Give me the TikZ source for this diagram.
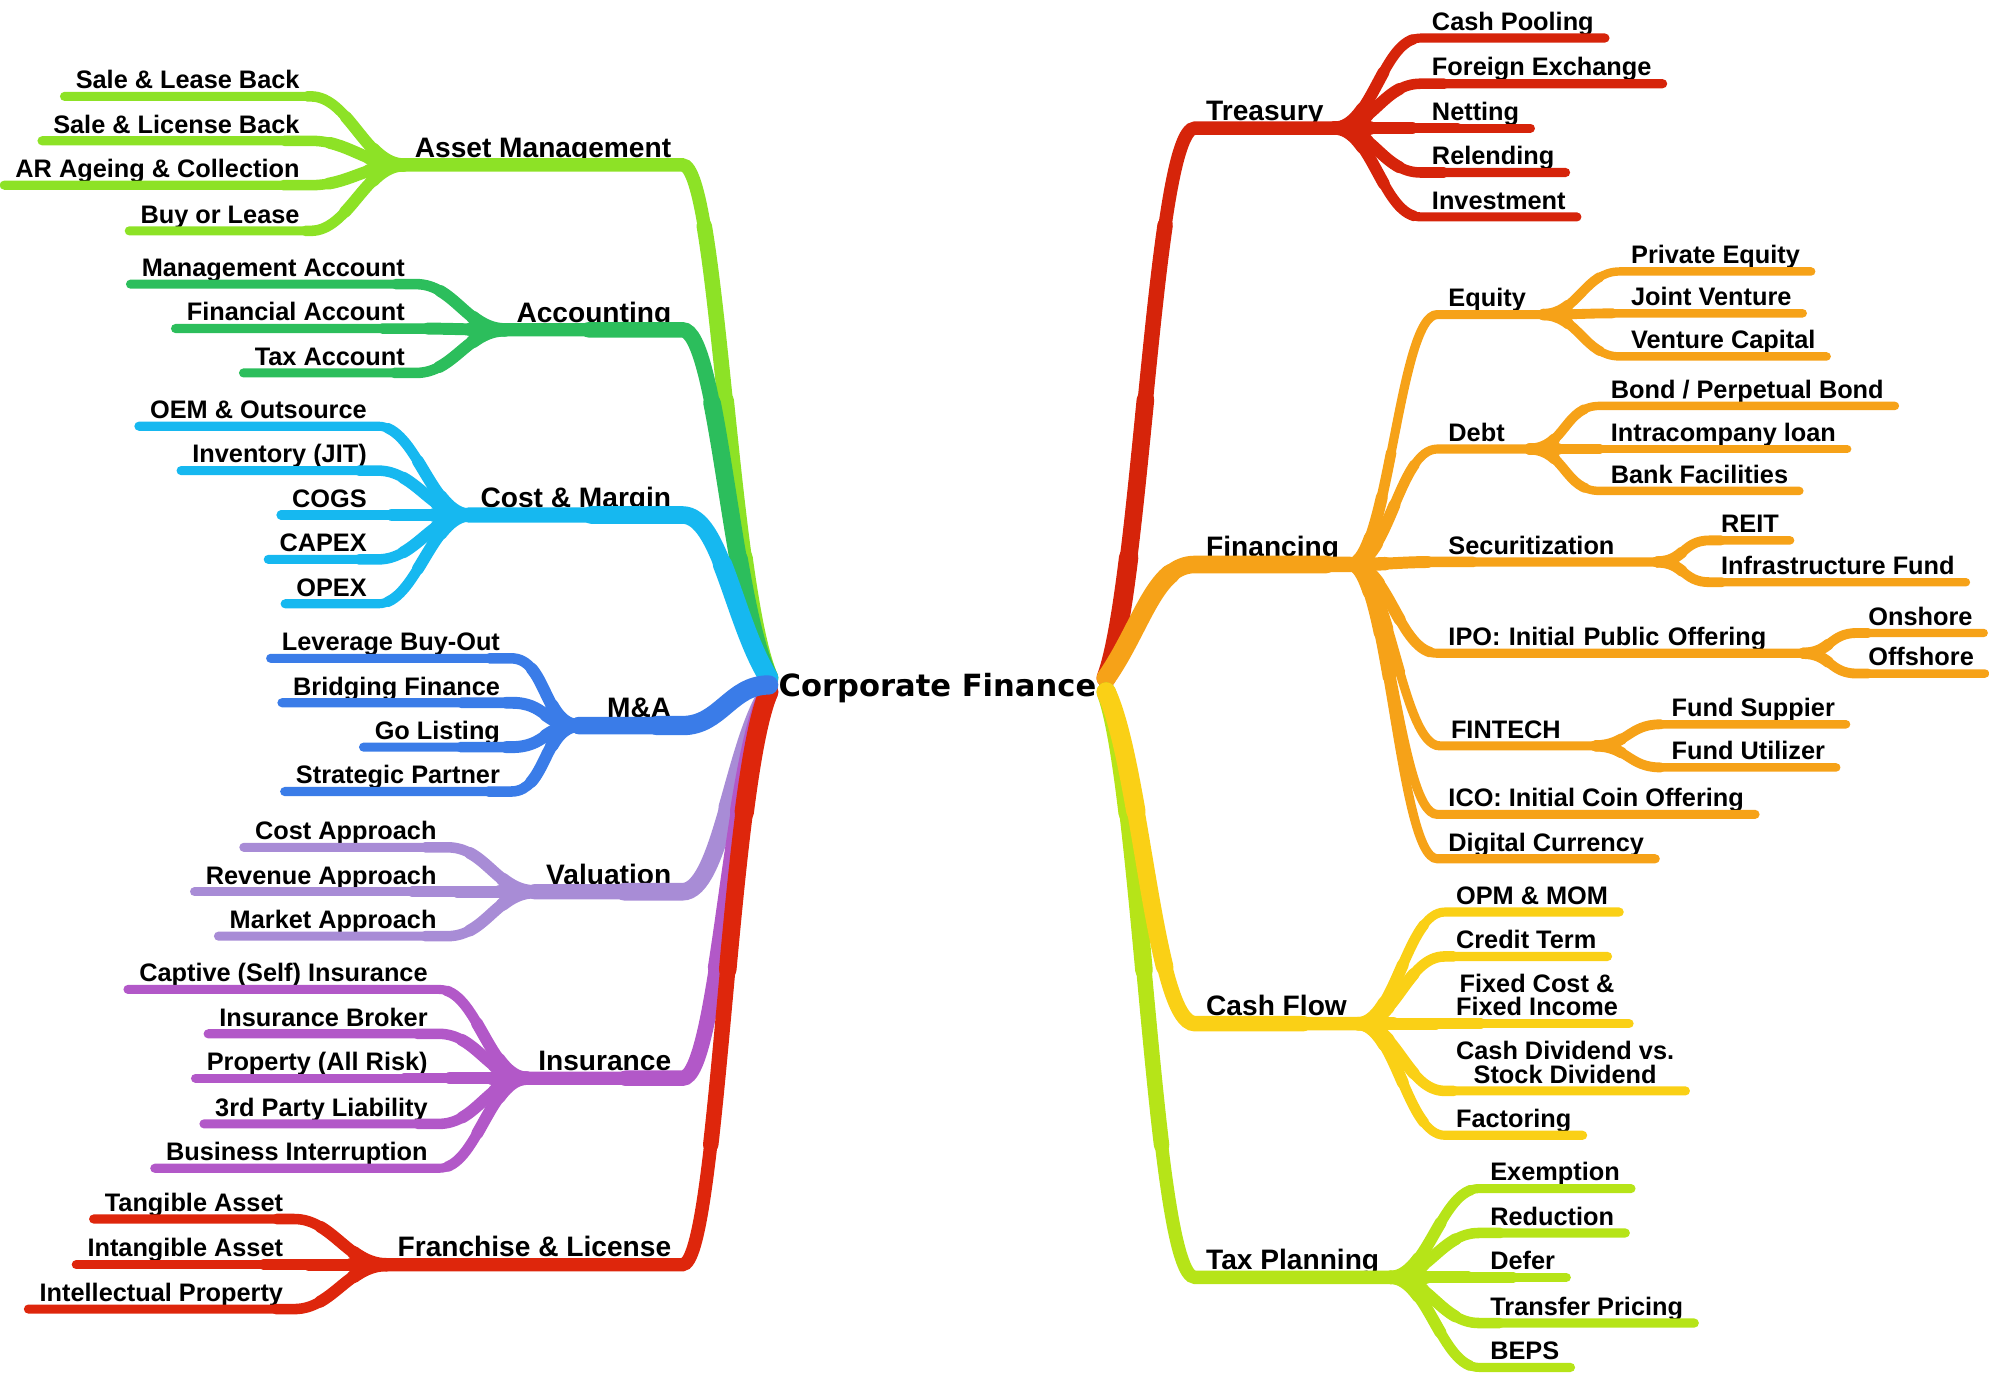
\documentclass[tikz,border=0pt]{standalone}
\usepackage{fontspec}
\setmainfont{Liberation Sans}
\newfontfamily\hubfont{DejaVu Sans}

\definecolor{amgreen}{RGB}{141,226,38}
\definecolor{accgreen}{RGB}{44,190,92}
\definecolor{cmblue}{RGB}{22,184,240}
\definecolor{mablue}{RGB}{58,124,232}
\definecolor{vallav}{RGB}{168,140,214}
\definecolor{inspurple}{RGB}{178,88,200}
\definecolor{flred}{RGB}{222,38,12}
\definecolor{trred}{RGB}{214,36,10}
\definecolor{finorange}{RGB}{246,162,24}
\definecolor{cfyellow}{RGB}{250,208,22}
\definecolor{tplime}{RGB}{182,228,24}

\begin{document}
\begin{tikzpicture}[
    x=0.012685cm, y=-0.012685cm,
    % every label sits on its own underline
    every node/.style={font=\bfseries\fontsize{7.2}{6.6}\selectfont,
        inner xsep=3pt, inner ysep=2pt, text depth=0pt},
    % first level labels, slightly larger
    topic/.style={font=\bfseries\fontsize{8}{9}\selectfont},
    % central topic
    hub/.style={font=\hubfont\bfseries\fontsize{8.7}{10}\selectfont,
        inner xsep=0pt, minimum width=3.36cm, text height=6.3pt},
    % labels left / right of the hub
    lleaf/.style={anchor=south east},
    rleaf/.style={anchor=south west},
    % tapered strokes: thicker near where they start
    trunk/.style={draw=#1, line width=3.8pt, line cap=round,
        preaction={draw=#1, line cap=round, line width=4.4pt, dash pattern=on 130pt off 2000pt},
        preaction={draw=#1, line cap=round, line width=5.0pt, dash pattern=on 80pt off 2000pt},
        preaction={draw=#1, line cap=round, line width=5.5pt, dash pattern=on 35pt off 2000pt}},
    twig/.style={draw=#1, line width=2.6pt, line cap=round,
        preaction={draw=#1, line cap=round, line width=3.0pt, dash pattern=on 35pt off 2000pt},
        preaction={draw=#1, line cap=round, line width=3.4pt, dash pattern=on 22pt off 2000pt},
        preaction={draw=#1, line cap=round, line width=3.8pt, dash pattern=on 10pt off 2000pt}},
    sprig/.style={draw=#1, line width=2.4pt, line cap=round,
        preaction={draw=#1, line cap=round, line width=2.8pt, dash pattern=on 20pt off 2000pt},
        preaction={draw=#1, line cap=round, line width=3.2pt, dash pattern=on 8pt off 2000pt}},
]

\useasboundingbox (0,0) rectangle (1568,1083);

% Hub
\node[hub] (cf) at (739,540) {Corporate Finance};

% ====================================================
% LEFT HALF
% ====================================================

% Asset Management
\node[topic, lleaf] (am) at (538,130) {Asset Management};
\node[lleaf] (am-slb) at (245,76) {Sale \& Lease Back};
\node[lleaf] (am-sli) at (245,111) {Sale \& License Back};
\node[lleaf] (am-ar) at (245,146) {AR Ageing \& Collection};
\node[lleaf] (am-bl) at (245,182) {Buy or Lease};

\draw[twig=amgreen] (am.south west) .. controls +(-30,0) and +(30,0) .. (am-slb.south east) -- (am-slb.south west);
\draw[twig=amgreen] (am.south west) .. controls +(-30,0) and +(30,0) .. (am-sli.south east) -- (am-sli.south west);
\draw[twig=amgreen] (am.south west) .. controls +(-30,0) and +(30,0) .. (am-ar.south east) -- (am-ar.south west);
\draw[twig=amgreen] (am.south west) .. controls +(-30,0) and +(30,0) .. (am-bl.south east) -- (am-bl.south west);

% Accounting
\node[topic, lleaf] (acc) at (538,260) {Accounting};
\node[lleaf] (acc-mgt) at (328,224) {Management Account};
\node[lleaf] (acc-fin) at (328,259) {Financial Account};
\node[lleaf] (acc-tax) at (328,294) {Tax Account};

\draw[twig=accgreen] (acc.south west) .. controls +(-30,0) and +(30,0) .. (acc-mgt.south east) -- (acc-mgt.south west);
\draw[twig=accgreen] (acc.south west) .. controls +(-30,0) and +(30,0) .. (acc-fin.south east) -- (acc-fin.south west);
\draw[twig=accgreen] (acc.south west) .. controls +(-30,0) and +(30,0) .. (acc-tax.south east) -- (acc-tax.south west);

% Cost & Margin
\node[topic, lleaf] (cm) at (538,406) {Cost \& Margin};
\node[lleaf] (cm-oem) at (298,336) {OEM \& Outsource};
\node[lleaf] (cm-inv) at (298,371) {Inventory (JIT)};
\node[lleaf] (cm-cogs) at (298,406) {COGS};
\node[lleaf] (cm-capex) at (298,441) {CAPEX};
\node[lleaf] (cm-opex) at (298,476) {OPEX};

\draw[twig=cmblue] (cm.south west) .. controls +(-30,0) and +(30,0) .. (cm-oem.south east) -- (cm-oem.south west);
\draw[twig=cmblue] (cm.south west) .. controls +(-30,0) and +(30,0) .. (cm-inv.south east) -- (cm-inv.south west);
\draw[twig=cmblue] (cm.south west) .. controls +(-30,0) and +(30,0) .. (cm-cogs.south east) -- (cm-cogs.south west);
\draw[twig=cmblue] (cm.south west) .. controls +(-30,0) and +(30,0) .. (cm-capex.south east) -- (cm-capex.south west);
\draw[twig=cmblue] (cm.south west) .. controls +(-30,0) and +(30,0) .. (cm-opex.south east) -- (cm-opex.south west);

% M&A
\node[topic, lleaf, text width=0.81cm, align=right] (ma) at (538,572) {M\&A};
\node[lleaf] (ma-lbo) at (403,519) {Leverage Buy-Out};
\node[lleaf] (ma-bf) at (403,554) {Bridging Finance};
\node[lleaf] (ma-gl) at (403,589) {Go Listing};
\node[lleaf] (ma-sp) at (403,624) {Strategic Partner};

\draw[twig=mablue] (ma.south west) .. controls +(-28,0) and +(28,0) .. (ma-lbo.south east) -- (ma-lbo.south west);
\draw[twig=mablue] (ma.south west) .. controls +(-28,0) and +(28,0) .. (ma-bf.south east) -- (ma-bf.south west);
\draw[twig=mablue] (ma.south west) .. controls +(-28,0) and +(28,0) .. (ma-gl.south east) -- (ma-gl.south west);
\draw[twig=mablue] (ma.south west) .. controls +(-28,0) and +(28,0) .. (ma-sp.south east) -- (ma-sp.south west);

% Valuation
\node[topic, lleaf] (val) at (538,703) {Valuation};
\node[lleaf] (val-cost) at (353,668) {Cost Approach};
\node[lleaf] (val-rev) at (353,703) {Revenue Approach};
\node[lleaf] (val-mkt) at (353,738) {Market Approach};

\draw[twig=vallav] (val.south west) .. controls +(-30,0) and +(30,0) .. (val-cost.south east) -- (val-cost.south west);
\draw[twig=vallav] (val.south west) .. controls +(-30,0) and +(30,0) .. (val-rev.south east) -- (val-rev.south west);
\draw[twig=vallav] (val.south west) .. controls +(-30,0) and +(30,0) .. (val-mkt.south east) -- (val-mkt.south west);

% Insurance
\node[topic, lleaf] (ins) at (538,850) {Insurance};
\node[lleaf] (ins-cap) at (346,780) {Captive (Self) Insurance};
\node[lleaf] (ins-brk) at (346,815) {Insurance Broker};
\node[lleaf] (ins-prop) at (346,850) {Property (All Risk)};
\node[lleaf] (ins-3rd) at (346,886) {3rd Party Liability};
\node[lleaf] (ins-bi) at (346,921) {Business Interruption};

\draw[twig=inspurple] (ins.south west) .. controls +(-30,0) and +(30,0) .. (ins-cap.south east) -- (ins-cap.south west);
\draw[twig=inspurple] (ins.south west) .. controls +(-30,0) and +(30,0) .. (ins-brk.south east) -- (ins-brk.south west);
\draw[twig=inspurple] (ins.south west) .. controls +(-30,0) and +(30,0) .. (ins-prop.south east) -- (ins-prop.south west);
\draw[twig=inspurple] (ins.south west) .. controls +(-30,0) and +(30,0) .. (ins-3rd.south east) -- (ins-3rd.south west);
\draw[twig=inspurple] (ins.south west) .. controls +(-30,0) and +(30,0) .. (ins-bi.south east) -- (ins-bi.south west);

% Franchise & License
\node[topic, lleaf] (fl) at (538,997) {Franchise \& License};
\node[lleaf] (fl-tan) at (232,961) {Tangible Asset};
\node[lleaf] (fl-int) at (232,997) {Intangible Asset};
\node[lleaf] (fl-ip) at (232,1032) {Intellectual Property};

\draw[twig=flred] (fl.south west) .. controls +(-30,0) and +(30,0) .. (fl-tan.south east) -- (fl-tan.south west);
\draw[twig=flred] (fl.south west) .. controls +(-30,0) and +(30,0) .. (fl-int.south east) -- (fl-int.south west);
\draw[twig=flred] (fl.south west) .. controls +(-30,0) and +(30,0) .. (fl-ip.south east) -- (fl-ip.south west);

% Trunks to the hub
\draw[trunk=amgreen] ([yshift=2pt]cf.west) .. controls +(-32,-75) and +(28,0) .. (am.south east) -- (am.south west);
\draw[trunk=accgreen] ([yshift=2pt]cf.west) .. controls +(-30,-60) and +(28,0) .. (acc.south east) -- (acc.south west);
\draw[trunk=cmblue] ([yshift=2pt]cf.west) .. controls +(-28,-45) and +(30,0) .. (cm.south east) -- (cm.south west);
\draw[trunk=vallav] ([yshift=-2pt]cf.west) .. controls +(-28,45) and +(30,0) .. (val.south east) -- (val.south west);
\draw[trunk=inspurple] ([yshift=-2pt]cf.west) .. controls +(-30,60) and +(28,0) .. (ins.south east) -- (ins.south west);
\draw[trunk=flred] ([yshift=-2pt]cf.west) .. controls +(-32,75) and +(28,0) .. (fl.south east) -- (fl.south west);
\draw[trunk=mablue] (cf.west) .. controls +(-30,0) and +(30,0) .. (ma.south east) -- (ma.south west);

% ====================================================
% RIGHT HALF
% ====================================================

% Treasury
\node[topic, rleaf] (tr) at (942,101) {Treasury};
\node[rleaf] (tr-cp) at (1120,30) {Cash Pooling};
\node[rleaf] (tr-fx) at (1120,66) {Foreign Exchange};
\node[rleaf] (tr-net) at (1120,101) {Netting};
\node[rleaf] (tr-rel) at (1120,136) {Relending};
\node[rleaf] (tr-inv) at (1120,171) {Investment};

\draw[twig=trred] (tr.south east) .. controls +(30,0) and +(-30,0) .. (tr-cp.south west) -- (tr-cp.south east);
\draw[twig=trred] (tr.south east) .. controls +(30,0) and +(-30,0) .. (tr-fx.south west) -- (tr-fx.south east);
\draw[twig=trred] (tr.south east) .. controls +(30,0) and +(-30,0) .. (tr-net.south west) -- (tr-net.south east);
\draw[twig=trred] (tr.south east) .. controls +(30,0) and +(-30,0) .. (tr-rel.south west) -- (tr-rel.south east);
\draw[twig=trred] (tr.south east) .. controls +(30,0) and +(-30,0) .. (tr-inv.south west) -- (tr-inv.south east);

% Financing
\node[topic, rleaf] (fin) at (942,445) {Financing};
\node[rleaf, text width=0.83cm, align=left] (fin-eq) at (1133,248) {Equity};
\node[rleaf, text width=0.70cm, align=left] (fin-debt) at (1133,354) {Debt};
\node[rleaf, text width=1.97cm, align=left] (fin-sec) at (1133,443) {Securitization};
\node[rleaf, text width=3.43cm, align=left] (fin-ipo) at (1133,515) {IPO: Initial Public Offering};
\node[rleaf, text width=1.33cm, align=left] (fin-tech) at (1135,588) {FINTECH};
\node[rleaf] (fin-ico) at (1133,642) {ICO: Initial Coin Offering};
\node[rleaf] (fin-dc) at (1133,677) {Digital Currency};

\node[rleaf] (eq-pe) at (1277,214) {Private Equity};
\node[rleaf] (eq-jv) at (1277,247) {Joint Venture};
\node[rleaf] (eq-vc) at (1277,281) {Venture Capital};
\node[rleaf] (debt-bond) at (1261,320) {Bond / Perpetual Bond};
\node[rleaf] (debt-icl) at (1261,354) {Intracompany loan};
\node[rleaf] (debt-bank) at (1261,387) {Bank Facilities};
\node[rleaf] (sec-reit) at (1348,426) {REIT};
\node[rleaf] (sec-infra) at (1348,459) {Infrastructure Fund};
\node[rleaf] (ipo-on) at (1464,499) {Onshore};
\node[rleaf] (ipo-off) at (1464,531) {Offshore};
\node[rleaf] (tech-sup) at (1309,571) {Fund Suppier};
\node[rleaf] (tech-util) at (1309,605) {Fund Utilizer};

\draw[twig=finorange] (fin.south east) .. controls +(30,0) and +(-30,0) .. (fin-eq.south west) -- (fin-eq.south east);
\draw[twig=finorange] (fin.south east) .. controls +(30,0) and +(-30,0) .. (fin-debt.south west) -- (fin-debt.south east);
\draw[twig=finorange] (fin.south east) .. controls +(30,0) and +(-30,0) .. (fin-sec.south west) -- (fin-sec.south east);
\draw[twig=finorange] (fin.south east) .. controls +(30,0) and +(-30,0) .. (fin-ipo.south west) -- (fin-ipo.south east);
\draw[twig=finorange] (fin.south east) .. controls +(30,0) and +(-30,0) .. (fin-tech.south west) -- (fin-tech.south east);
\draw[twig=finorange] (fin.south east) .. controls +(30,0) and +(-30,0) .. (fin-ico.south west) -- (fin-ico.south east);
\draw[twig=finorange] (fin.south east) .. controls +(30,0) and +(-30,0) .. (fin-dc.south west) -- (fin-dc.south east);

\draw[sprig=finorange] (fin-eq.south east) .. controls +(28,0) and +(-28,0) .. (eq-pe.south west) -- (eq-pe.south east);
\draw[sprig=finorange] (fin-eq.south east) .. controls +(28,0) and +(-28,0) .. (eq-jv.south west) -- (eq-jv.south east);
\draw[sprig=finorange] (fin-eq.south east) .. controls +(28,0) and +(-28,0) .. (eq-vc.south west) -- (eq-vc.south east);
\draw[sprig=finorange] (fin-debt.south east) .. controls +(28,0) and +(-28,0) .. (debt-bond.south west) -- (debt-bond.south east);
\draw[sprig=finorange] (fin-debt.south east) .. controls +(28,0) and +(-28,0) .. (debt-icl.south west) -- (debt-icl.south east);
\draw[sprig=finorange] (fin-debt.south east) .. controls +(28,0) and +(-28,0) .. (debt-bank.south west) -- (debt-bank.south east);
\draw[sprig=finorange] (fin-sec.south east) .. controls +(22,0) and +(-22,0) .. (sec-reit.south west) -- (sec-reit.south east);
\draw[sprig=finorange] (fin-sec.south east) .. controls +(22,0) and +(-22,0) .. (sec-infra.south west) -- (sec-infra.south east);
\draw[sprig=finorange] (fin-ipo.south east) .. controls +(22,0) and +(-22,0) .. (ipo-on.south west) -- (ipo-on.south east);
\draw[sprig=finorange] (fin-ipo.south east) .. controls +(22,0) and +(-22,0) .. (ipo-off.south west) -- (ipo-off.south east);
\draw[sprig=finorange] (fin-tech.south east) .. controls +(25,0) and +(-25,0) .. (tech-sup.south west) -- (tech-sup.south east);
\draw[sprig=finorange] (fin-tech.south east) .. controls +(25,0) and +(-25,0) .. (tech-util.south west) -- (tech-util.south east);

% Cash Flow
\node[topic, rleaf] (cfl) at (942,807) {Cash Flow};
\node[rleaf] (cfl-opm) at (1139,719) {OPM \& MOM};
\node[rleaf] (cfl-cred) at (1139,754) {Credit Term};
\node[rleaf, align=center] (cfl-fix) at (1139,807) {Fixed Cost \&\\Fixed Income};
\node[rleaf, align=center] (cfl-div) at (1139,860) {Cash Dividend vs.\\Stock Dividend};
\node[rleaf] (cfl-fact) at (1139,895) {Factoring};

\draw[twig=cfyellow] (cfl.south east) .. controls +(30,0) and +(-30,0) .. (cfl-opm.south west) -- (cfl-opm.south east);
\draw[twig=cfyellow] (cfl.south east) .. controls +(30,0) and +(-30,0) .. (cfl-cred.south west) -- (cfl-cred.south east);
\draw[twig=cfyellow] (cfl.south east) .. controls +(30,0) and +(-30,0) .. (cfl-fix.south west) -- (cfl-fix.south east);
\draw[twig=cfyellow] (cfl.south east) .. controls +(30,0) and +(-30,0) .. (cfl-div.south west) -- (cfl-div.south east);
\draw[twig=cfyellow] (cfl.south east) .. controls +(30,0) and +(-30,0) .. (cfl-fact.south west) -- (cfl-fact.south east);

% Tax Planning
\node[topic, rleaf] (tp) at (942,1007) {Tax Planning};
\node[rleaf] (tp-ex) at (1166,937) {Exemption};
\node[rleaf] (tp-red) at (1166,972) {Reduction};
\node[rleaf] (tp-def) at (1166,1007) {Defer};
\node[rleaf] (tp-tp) at (1166,1043) {Transfer Pricing};
\node[rleaf] (tp-beps) at (1166,1078) {BEPS};

\draw[twig=tplime] (tp.south east) .. controls +(30,0) and +(-30,0) .. (tp-ex.south west) -- (tp-ex.south east);
\draw[twig=tplime] (tp.south east) .. controls +(30,0) and +(-30,0) .. (tp-red.south west) -- (tp-red.south east);
\draw[twig=tplime] (tp.south east) .. controls +(30,0) and +(-30,0) .. (tp-def.south west) -- (tp-def.south east);
\draw[twig=tplime] (tp.south east) .. controls +(30,0) and +(-30,0) .. (tp-tp.south west) -- (tp-tp.south east);
\draw[twig=tplime] (tp.south east) .. controls +(30,0) and +(-30,0) .. (tp-beps.south west) -- (tp-beps.south east);

% Trunks to the hub
\draw[trunk=trred] ([yshift=2pt]cf.east) .. controls +(28,-75) and +(-32,0) .. (tr.south west) -- (tr.south east);
\draw[trunk=finorange] ([yshift=2pt]cf.east) .. controls +(28,-40) and +(-32,0) .. (fin.south west) -- (fin.south east);
\draw[trunk=tplime] ([yshift=-2pt]cf.east) .. controls +(28,75) and +(-32,0) .. (tp.south west) -- (tp.south east);
\draw[trunk=cfyellow] ([yshift=-2pt]cf.east) .. controls +(28,60) and +(-32,0) .. (cfl.south west) -- (cfl.south east);

\end{tikzpicture}
\end{document}
